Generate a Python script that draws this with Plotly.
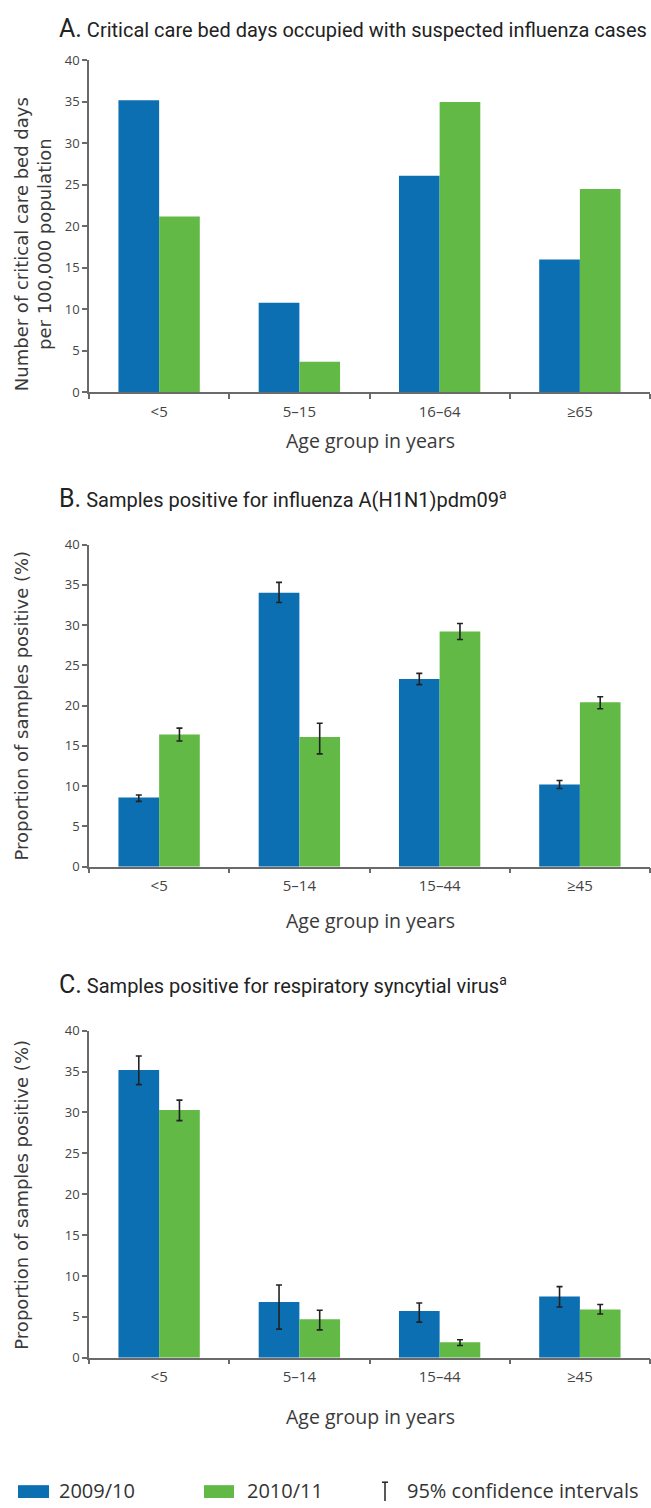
import plotly.graph_objects as go

# ---------------- data ----------------
cats_a = ["<5", "5–15", "16–64", "≥65"]
a_0910 = [35.2, 10.8, 26.1, 16.0]
a_1011 = [21.2, 3.7, 35.0, 24.5]

cats_bc = ["<5", "5–14", "15–44", "≥45"]
b_0910 = [8.6, 34.0, 23.3, 10.2]
b_0910_lo = [8.1, 32.8, 22.6, 9.7]
b_0910_hi = [8.9, 35.3, 24.0, 10.7]
b_1011 = [16.4, 16.1, 29.2, 20.4]
b_1011_lo = [15.6, 14.0, 28.2, 19.6]
b_1011_hi = [17.2, 17.8, 30.2, 21.1]

c_0910 = [35.2, 6.8, 5.7, 7.5]
c_0910_lo = [33.4, 3.5, 4.35, 6.2]
c_0910_hi = [36.9, 8.9, 6.7, 8.7]
c_1011 = [30.3, 4.7, 1.9, 5.9]
c_1011_lo = [29.0, 3.4, 1.5, 5.35]
c_1011_hi = [31.5, 5.8, 2.2, 6.5]

series_names = ["2009/10", "2010/11"]
y_ticks = [0, 5, 10, 15, 20, 25, 30, 35, 40]

BLUE = "#0C6FB1"
GREEN = "#62B946"
ERR = "#222222"
AXC = "#6a6a6a"

W, H = 651, 1508
SANS = "Open Sans, DejaVu Sans, sans-serif"
TICKFONT = dict(family=SANS, size=13, color="#444444")
TITLEFONT = "Liberation Sans Narrow, Roboto, sans-serif"

def py(px):
    return 1 - px / H

def px_x(px):
    return px / W

fig = go.Figure()

def err(vals, lo, hi):
    return dict(type="data", symmetric=False,
                array=[h - v for v, h in zip(vals, hi)],
                arrayminus=[v - l for v, l in zip(vals, lo)],
                color=ERR, thickness=1.6, width=3)

bar_line = dict(width=0)
# panel A
fig.add_trace(go.Bar(x=cats_a, y=a_0910, name=series_names[0], marker=dict(color=BLUE, line=bar_line),
                     xaxis="x", yaxis="y", showlegend=False))
fig.add_trace(go.Bar(x=cats_a, y=a_1011, name=series_names[1], marker=dict(color=GREEN, line=bar_line),
                     xaxis="x", yaxis="y", showlegend=False))
# panel B
fig.add_trace(go.Bar(x=cats_bc, y=b_0910, name=series_names[0], marker=dict(color=BLUE, line=bar_line),
                     error_y=err(b_0910, b_0910_lo, b_0910_hi),
                     xaxis="x2", yaxis="y2", showlegend=False))
fig.add_trace(go.Bar(x=cats_bc, y=b_1011, name=series_names[1], marker=dict(color=GREEN, line=bar_line),
                     error_y=err(b_1011, b_1011_lo, b_1011_hi),
                     xaxis="x2", yaxis="y2", showlegend=False))
# panel C
fig.add_trace(go.Bar(x=cats_bc, y=c_0910, name=series_names[0], marker=dict(color=BLUE, line=bar_line),
                     error_y=err(c_0910, c_0910_lo, c_0910_hi),
                     xaxis="x3", yaxis="y3", showlegend=False))
fig.add_trace(go.Bar(x=cats_bc, y=c_1011, name=series_names[1], marker=dict(color=GREEN, line=bar_line),
                     error_y=err(c_1011, c_1011_lo, c_1011_hi),
                     xaxis="x3", yaxis="y3", showlegend=False))

# plot area positions (px)
panels = [
    dict(top=52, bottom=388),
    dict(top=542, bottom=868),
    dict(top=1034, bottom=1365),
]
xdom = [px_x(89), px_x(650)]

def xaxis_cfg(anchor):
    return dict(domain=xdom, anchor=anchor, type="category", showline=True,
                linecolor=AXC, linewidth=1.5, ticks="outside", tickson="boundaries",
                ticklen=5, tickcolor=AXC, tickwidth=1.5, showgrid=False,
                tickfont=dict(family=SANS, size=15, color="#444444"),
                ticklabelstandoff=5)

def yaxis_cfg(anchor, p):
    return dict(domain=[py(p["bottom"]), py(p["top"])], anchor=anchor, range=[0, 40],
                tickvals=y_ticks, showline=True, linecolor=AXC, linewidth=1.5,
                ticks="outside", ticklen=5, tickcolor=AXC, tickwidth=1.5,
                showgrid=False, zeroline=False, tickfont=TICKFONT)

fig.update_layout(
    xaxis=xaxis_cfg("y"), yaxis=yaxis_cfg("x", panels[0]),
    xaxis2=xaxis_cfg("y2"), yaxis2=yaxis_cfg("x2", panels[1]),
    xaxis3=xaxis_cfg("y3"), yaxis3=yaxis_cfg("x3", panels[2]),
)

annots = []
titles = [
    ("A.", "Critical care bed days occupied with suspected influenza cases", 20),
    ("B.", "Samples positive for influenza A(H1N1)pdm09<sup>a</sup>", 495),
    ("C.", "Samples positive for respiratory syncytial virus<sup>a</sup>", 987),
]
for letter, txt, ypx in titles:
    annots.append(dict(xref="paper", yref="paper", x=px_x(57), y=py(ypx),
                       xanchor="left", yanchor="middle", showarrow=False,
                       text=f"<span style='font-size:25px'>{letter}</span> {txt}",
                       font=dict(family=TITLEFONT, size=20, color="#222222")))

AXTITLE = dict(family="DejaVu Sans, Open Sans, sans-serif", size=18, color="#3a3a3a")
ytitles = [
    ("Number of critical care bed days<br>per 100,000 population", 33, 238),
    ("Proportion of samples positive (%)", 22, 705),
    ("Proportion of samples positive (%)", 22, 1200),
]
for txt, xp, yp in ytitles:
    annots.append(dict(xref="paper", yref="paper", x=px_x(xp), y=py(yp),
                       xanchor="center", yanchor="middle", showarrow=False,
                       textangle=-90, text=txt, font=AXTITLE))

XTITLE = dict(family=SANS, size=19.5, color="#3a3a3a")
for yp in [437, 923, 1425]:
    annots.append(dict(xref="paper", yref="paper", x=px_x(370), y=py(yp),
                       xanchor="center", yanchor="middle", showarrow=False,
                       text="Age group in years", font=XTITLE))

# legend (drawn)
LEGFONT = dict(family=SANS, size=20, color="#333333")
shapes = []
shapes.append(dict(type="rect", xref="paper", yref="paper", x0=px_x(18), x1=px_x(49),
                   y0=py(1507), y1=py(1494), fillcolor=BLUE, line=dict(width=0)))
shapes.append(dict(type="rect", xref="paper", yref="paper", x0=px_x(204), x1=px_x(234),
                   y0=py(1507), y1=py(1494), fillcolor=GREEN, line=dict(width=0)))
# confidence-interval glyph
cx = px_x(385)
shapes.append(dict(type="line", xref="paper", yref="paper", x0=cx, x1=cx,
                   y0=py(1510), y1=py(1491), line=dict(color=ERR, width=1.5)))
for yy in [1491]:
    shapes.append(dict(type="line", xref="paper", yref="paper", x0=px_x(382), x1=px_x(388),
                       y0=py(yy), y1=py(yy), line=dict(color=ERR, width=1.5)))
for txt, xp in [(series_names[0], 57), (series_names[1], 245), ("95% confidence intervals", 405)]:
    annots.append(dict(xref="paper", yref="paper", x=px_x(xp), y=py(1499),
                       xanchor="left", yanchor="middle", showarrow=False,
                       text=txt, font=LEGFONT))

fig.update_layout(
    width=W, height=H, margin=dict(l=0, r=0, t=0, b=0),
    paper_bgcolor="white", plot_bgcolor="white",
    barmode="group", bargap=0.42, bargroupgap=0,
    annotations=annots, shapes=shapes, showlegend=False,
)

fig.write_html("out.html", config=dict(displayModeBar=False),
               post_script="document.body.style.margin='0';document.body.style.padding='0';")
